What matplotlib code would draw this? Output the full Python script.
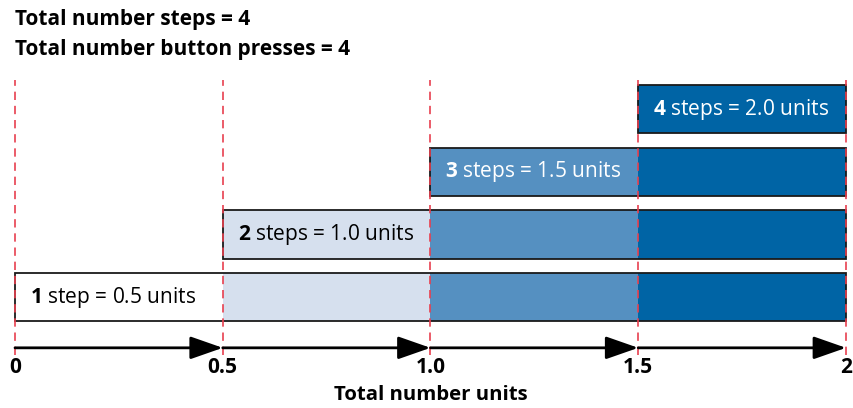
import matplotlib
matplotlib.use('Agg')
import matplotlib.pyplot as plt
from matplotlib.patches import Rectangle

# data
steps = [1, 2, 3, 4]
units = [0.5, 1.0, 1.5, 2.0]
seg_edges = [0, 0.5, 1.0, 1.5, 2.0]
seg_colors = ['white', '#d6e0ee', '#5590c1', '#0064a5']
tick_vals = [0, 0.5, 1.0, 1.5, 2]
tick_labels = ['0', '0.5', '1.0', '1.5', '2']
label_colors = ['black', 'black', 'white', 'white']

plt.rcParams['font.family'] = 'Open Sans'
plt.rcParams['mathtext.fontset'] = 'custom'
plt.rcParams['mathtext.rm'] = 'Open Sans'
plt.rcParams['mathtext.bf'] = 'Open Sans:bold'

fig = plt.figure(figsize=(8.54, 4.08), dpi=100)
ax = fig.add_axes([15 / 854, 0, 831 / 854, 1])
ax.set_xlim(0, 2)
ax.set_ylim(-0.77, 5.74)
ax.axis('off')

bar_h = 0.77
for k, n in enumerate(steps):
    y = k + 1
    for j in range(k, len(seg_colors)):
        ax.barh(y, seg_edges[j + 1] - seg_edges[j], left=seg_edges[j], height=bar_h,
                color=seg_colors[j], edgecolor='none', zorder=2)
    ax.add_patch(Rectangle((seg_edges[k], y - bar_h / 2), seg_edges[-1] - seg_edges[k], bar_h,
                           fill=False, edgecolor='#1a1a1a', lw=1.3, zorder=3, clip_on=False))
    word = 'step' if n == 1 else 'steps'
    ax.text(seg_edges[k] + 0.036, y, r'$\mathbf{%d}$ %s = %.1f units' % (n, word, units[k]),
            va='center', ha='left', fontsize=15, color=label_colors[k], zorder=5)

# red dashed guides
for v in tick_vals:
    ax.plot([v, v], [0.07, 4.47], color='#e8404f', lw=1.2, ls=(0, (5, 3.5)), zorder=4,
            clip_on=False)

# arrows along axis
for a, b in zip(seg_edges[:-1], seg_edges[1:]):
    ax.annotate('', xy=(b, 0.19), xytext=(a, 0.19),
                arrowprops=dict(arrowstyle='-|>,head_length=2.0,head_width=0.7',
                                color='black', lw=2, shrinkA=0, shrinkB=0), zorder=5)

for v, lab in zip(tick_vals, tick_labels):
    ax.text(v, -0.12, lab, ha='center', va='center', fontsize=15, fontweight='bold')

ax.text(1.0, -0.57, 'Total number units', ha='center', va='center', fontsize=14.7,
        fontweight='bold')

fig.text(15 / 854, 1 - 20 / 408, 'Total number steps = %d' % steps[-1],
         ha='left', va='center', fontsize=15, fontweight='bold')
fig.text(15 / 854, 1 - 50 / 408, 'Total number button presses = %d' % steps[-1],
         ha='left', va='center', fontsize=15, fontweight='bold')

fig.savefig('out.png', dpi=100)
